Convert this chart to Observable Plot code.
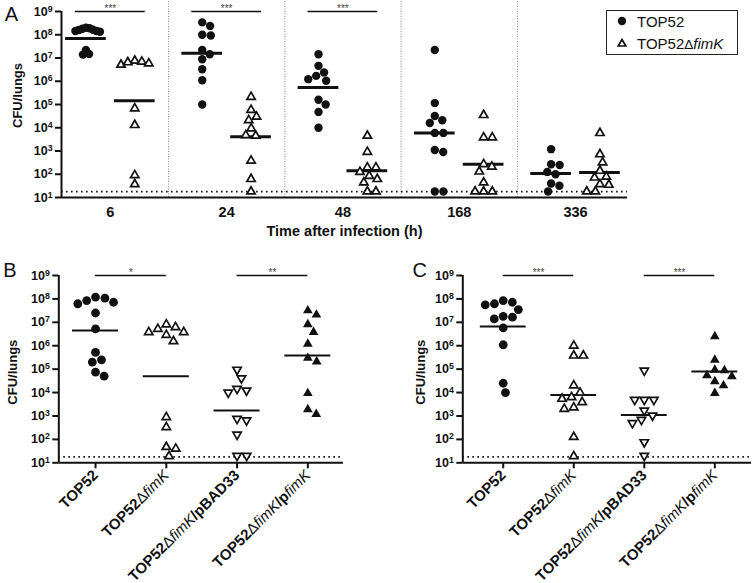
<!DOCTYPE html>
<html><head><meta charset="utf-8">
<script src="https://cdn.jsdelivr.net/npm/d3@7"></script>
<script src="https://cdn.jsdelivr.net/npm/@observablehq/plot@0.6"></script>
<style>
html,body{margin:0;padding:0;background:#fff;}
#wrap{position:relative;width:755px;height:583px;overflow:hidden;font-family:"Liberation Sans",Arial,sans-serif;}
.legend{position:absolute;left:606px;top:10px;width:132px;height:45px;border:1.3px solid #222;box-sizing:border-box;font-size:15px;color:#111;background:#fff;}
.legend .row{position:absolute;left:0;height:20px;display:flex;align-items:center;white-space:nowrap;}
.legend svg{display:block;}
</style></head>
<body><div id="wrap">
<div class="legend">
  <div class="row" style="top:0px"><svg width="30" height="20"><circle cx="15" cy="10" r="4.2" fill="#111"/></svg><span>TOP52</span></div>
  <div class="row" style="top:22px"><svg width="30" height="20"><polygon points="15,6.5 18.8,13 11.2,13" fill="#fff" stroke="#111" stroke-width="1.7"/></svg><span>TOP52<span style="font-size:0.9em;font-weight:300">Δ</span><i>fimK</i></span></div>
</div>
</div>
<script>
// ---------------- DATA ----------------
const timesA = ["6", "24", "48", "168", "336"];
// Panel A, CFU/lungs per mouse, one array per time point
const aTop52 = [
  [2.0e8, 1.8e8, 1.6e8, 1.45e8, 1.35e8, 1.45e8, 1.65e8, 1.9e8, 2.2e7, 1.4e7, 1.5e7],
  [3.4e8, 2.4e8, 1.0e8, 9.3e7, 2.2e7, 1.45e7, 8.9e6, 3.3e6, 1.1e6, 1.0e5],
  [1.45e7, 4.6e6, 2.4e6, 1.7e6, 1.23e6, 1.05e6, 1.6e5, 1.0e5, 4.8e4, 1.0e4],
  [2.2e7, 1.15e5, 3.2e4, 2.1e4, 1.6e4, 6.0e3, 6.0e3, 1.1e3, 9.1e2, 18, 18],
  [1.2e3, 2.5e2, 2.7e2, 1.26e2, 1.0e2, 40, 32, 18]
];
const aFimK = [
  [7.6e6, 6.9e6, 5.8e6, 5.1e6, 6.5e6, 6.8e4, 1.3e4, 91, 37],
  [2.1e5, 5.8e4, 3.0e4, 2.1e4, 9.3e3, 4.8e3, 4.5e3, 3.8e2, 62, 18],
  [4.5e3, 9.1e2, 1.95e2, 1.95e2, 1.26e2, 85, 62, 44, 18, 18],
  [3.5e4, 3.8e3, 3.8e3, 2.7e2, 2.1e2, 1.3e2, 44, 18, 18, 18],
  [5.9e3, 7.2e2, 3.2e2, 1.4e2, 79, 72, 37, 35, 18, 18]
];
const aTop52Mid = [6.9e7, 1.6e7, 5.4e5, 6.0e3, 1.07e2];
const aFimKMid = [1.45e5, 4.1e3, 1.4e2, 2.7e2, 1.2e2];
const aSigGroups = [0, 1, 2];
const aSigLabels = ["***", "***", "***"];

const strainsBC = ["TOP52", "TOP52ΔfimK", "TOP52ΔfimK/pBAD33", "TOP52ΔfimK/pfimK"];
const bValues = [
  [1.2e8, 6.2e7, 8.5e7, 7.2e7, 1.07e8, 2.5e7, 5.2e6, 5.2e5, 2.5e5, 2.0e5, 7.4e4, 5.0e4],
  [3.8e6, 6.2e6, 5.2e6, 2.9e6, 8.1e6, 3.8e6, 1.55e6, 8.9e2, 3.3e2, 47, 40, 19],
  [9.5e4, 4.1e4, 1.23e4, 1.0e4, 1.45e4, 6.5e2, 7.6e2, 1.6e2, 20, 20],
  [3.2e7, 2.1e7, 8.1e6, 3.8e6, 1.2e6, 2.1e5, 3.0e5, 9.3e3, 1.2e3, 1.9e3]
];
const bMid = [4.5e6, 5.0e4, 1.7e3, 3.8e5];
const bSigPairs = [[0, 1], [2, 3]];
const bSigLabels = ["*", "**"];

const cValues = [
  [7.2e7, 5.6e7, 3.5e7, 6.2e7, 8.5e7, 1.66e7, 1.8e7, 1.4e7, 5.8e6, 1.1e6, 2.5e4, 1.0e4],
  [1.0e6, 3.8e5, 3.8e5, 2.0e4, 9.8e3, 6.3e3, 3.9e3, 5.4e3, 2.0e3, 2.3e3, 1.26e2, 19],
  [8.7e4, 4.9e3, 4.9e3, 4.9e3, 1.7e3, 1.05e3, 5.0e2, 6.9e2, 76, 20],
  [2.5e6, 2.5e5, 8.9e4, 9.3e4, 3.0e4, 4.9e4, 5.4e4, 2.0e4, 9.5e3]
];
const cMid = [6.6e6, 7.9e3, 1.1e3, 7.9e4];
const cSigPairs = [[0, 1], [2, 3]];
const cSigLabels = ["***", "***"];

const decades = [1e1, 1e2, 1e3, 1e4, 1e5, 1e6, 1e7, 1e8, 1e9];
const detectionLimit = 18;

// ---------------- HELPERS ----------------
const FONT = "'Liberation Sans', Arial, sans-serif";
const NS = "http://www.w3.org/2000/svg";
const pow10 = d => "10^" + Math.round(Math.log10(d));

// simple beeswarm: horizontal pixel offsets so that points do not overlap
function dodge(vals, yScale, diam, cap) {
  const ys = vals.map(v => yScale(v));
  const order = d3.range(vals.length).sort((a, b) => ys[a] - ys[b]);
  const placed = [];
  const off = new Array(vals.length).fill(0);
  for (const i of order) {
    const y = ys[i];
    const cands = [0];
    for (const p of placed) {
      const dy = Math.abs(p.y - y);
      if (dy < diam) {
        const dx = Math.sqrt(diam * diam - dy * dy);
        cands.push(p.x + dx, p.x - dx);
      }
    }
    cands.sort((a, b) => Math.abs(a) - Math.abs(b) || b - a);
    let best = 0;
    for (const c of cands) {
      if (placed.every(p => (p.x - c) ** 2 + (p.y - y) ** 2 >= diam * diam - 0.01)) { best = c; break; }
    }
    off[i] = best;
    placed.push({x: best, y});
  }
  const m = d3.max(off, Math.abs);
  if (m > cap) off.forEach((o, k) => off[k] = o * cap / m);
  return off;
}

function styleText(svg) {
  svg.querySelectorAll("text").forEach(t => {
    if (t.querySelector("tspan")) return;
    const s = t.textContent;
    const m = s.match(/^10\^(\d+)$/);
    if (m) {
      t.textContent = "10";
      const ts = document.createElementNS(NS, "tspan");
      ts.setAttribute("dy", "-0.45em");
      ts.setAttribute("font-size", "0.7em");
      ts.textContent = m[1];
      t.appendChild(ts);
      return;
    }
    if (s.includes("Δ")) {
      t.textContent = "";
      s.split(/(Δ|fimK)/).filter(Boolean).forEach(part => {
        const ts = document.createElementNS(NS, "tspan");
        ts.textContent = part;
        if (part === "Δ") { ts.setAttribute("font-weight", "normal"); }
        else if (part === "fimK") { ts.setAttribute("font-weight", "normal"); ts.setAttribute("font-style", "italic"); }
        t.appendChild(ts);
      });
    }
  });
}

const wrap = document.getElementById("wrap");

// ---------------- PANEL A ----------------
{
  const W = 755, H = 250, ML = 61, MR = 128, MT = 11, MB = 53;
  const XD = [-0.42, 4.447];
  const yS = d3.scaleLog().domain([10, 1e9]).range([H - MB, MT]);
  const u = (W - ML - MR) / (XD[1] - XD[0]);
  const OFF = 0.21;
  const pts = [];
  [aTop52, aFimK].forEach((ser, s) => ser.forEach((vals, i) => {
    const off = dodge(vals, yS, 8.6, 14);
    vals.forEach((v, k) => pts.push({s, x: i + (s ? OFF : -OFF) + off[k] / u, y: v}));
  }));
  const mid = [];
  [aTop52Mid, aFimKMid].forEach((ser, s) => ser.forEach((v, i) => mid.push({x: i + (s ? OFF : -OFF), y: v})));
  const sep = d3.range(timesA.length - 1).map(i => i + 0.5);
  const sig = aSigGroups.map((g, k) => ({x1: g - 0.3, x2: g + 0.3, x: g, label: aSigLabels[k]}));
  const yTop = yS.invert(0);

  const svg = Plot.plot({
    width: W, height: H, marginLeft: ML, marginRight: MR, marginTop: MT, marginBottom: MB,
    style: {position: "absolute", left: "0px", top: "0px", fontFamily: FONT, color: "#111", background: "transparent", overflow: "visible"},
    x: {domain: XD},
    y: {type: "log", domain: [10, 1e9]},
    marks: [
      Plot.ruleX(sep, {y1: 10, y2: yTop, stroke: "#888", strokeWidth: 1, strokeDasharray: "1,1.5"}),
      Plot.ruleY([detectionLimit], {stroke: "#111", strokeWidth: 1.8, strokeDasharray: "1.6,3.4"}),
      Plot.axisY({ticks: decades, tickFormat: pow10, tickSize: 6, tickPadding: 3, fontSize: 12.5, fontWeight: "bold", strokeWidth: 2, label: null}),
      Plot.axisX({ticks: d3.range(timesA.length), tickFormat: i => timesA[i], tickSize: 0, tickPadding: 9, fontSize: 14.5, fontWeight: "bold", label: null}),
      Plot.ruleX([XD[0]], {y1: 10, y2: 1e9, strokeWidth: 2}),
      Plot.ruleY([10], {strokeWidth: 2}),
      Plot.text(["Time after infection (h)"], {frameAnchor: "bottom", lineAnchor: "middle", dy: 34, fontSize: 14.5, fontWeight: "bold"}),
      Plot.text(["CFU/lungs"], {frameAnchor: "left", textAnchor: "middle", dx: -44, dy: -9, rotate: -90, fontSize: 13, fontWeight: "bold"}),
      Plot.text(["A"], {frameAnchor: "top-left", textAnchor: "middle", lineAnchor: "middle", dx: -50, dy: 3, fontSize: 20}),
      Plot.ruleY(sig, {y: 1e9, x1: "x1", x2: "x2", strokeWidth: 1.5}),
      Plot.text(sig, {x: "x", y: 1e9, text: "label", dy: -2.5, fontSize: 10, fill: "#444"}),
      Plot.ruleY(mid, {y: "y", x1: d => d.x - 0.175, x2: d => d.x + 0.175, strokeWidth: 3}),
      Plot.dot(pts.filter(d => d.s === 0), {x: "x", y: "y", r: 4.2, fill: "#111", symbol: "circle"}),
      Plot.dot(pts.filter(d => d.s === 1), {x: "x", y: "y", r: 3.1, fill: "white", stroke: "#111", strokeWidth: 1.7, symbol: "triangle"})
    ]
  });
  styleText(svg);
  wrap.appendChild(svg);
}

// ---------------- PANELS B, C ----------------
function panelBC(cfg) {
  const {left, top, W, H, ML, MR, MT, MB, XD, values, mids, sigPairs, sigLabels, letter, letterDx, yLabelDx} = cfg;
  const yS = d3.scaleLog().domain([10, 1e9]).range([H - MB, MT]);
  const u = (W - ML - MR) / (XD[1] - XD[0]);
  const pts = [];
  values.forEach((vals, i) => {
    const off = dodge(vals, yS, 9.6, 18);
    vals.forEach((v, k) => pts.push({g: i, x: i + off[k] / u, y: v}));
  });
  const mid = mids.map((v, i) => ({x: i, y: v}));
  const sig = sigPairs.map((p, k) => ({x1: p[0], x2: p[1], x: (p[0] + p[1]) / 2, label: sigLabels[k]}));
  const ofG = g => pts.filter(d => d.g === g);
  const svg = Plot.plot({
    width: W, height: H, marginLeft: ML, marginRight: MR, marginTop: MT, marginBottom: MB,
    style: {position: "absolute", left: left + "px", top: top + "px", fontFamily: FONT, color: "#111", background: "transparent", overflow: "visible"},
    x: {domain: XD},
    y: {type: "log", domain: [10, 1e9]},
    marks: [
      Plot.ruleY([detectionLimit], {stroke: "#111", strokeWidth: 1.8, strokeDasharray: "1.6,3.4"}),
      Plot.axisY({ticks: decades, tickFormat: pow10, tickSize: 6, tickPadding: 3, fontSize: 12.5, fontWeight: "bold", strokeWidth: 2, label: null}),
      Plot.axisX({ticks: d3.range(strainsBC.length), tickFormat: i => strainsBC[i], tickRotate: -45, tickSize: 6, tickPadding: 4, fontSize: 15, fontWeight: "bold", strokeWidth: 2, label: null}),
      Plot.ruleX([XD[0]], {y1: 10, y2: 1e9, strokeWidth: 2}),
      Plot.ruleY([10], {strokeWidth: 2}),
      Plot.text(["CFU/lungs"], {frameAnchor: "left", textAnchor: "middle", dx: yLabelDx, dy: 3, rotate: -90, fontSize: 13, fontWeight: "bold"}),
      Plot.text([letter], {frameAnchor: "top-left", textAnchor: "middle", lineAnchor: "middle", dx: letterDx, dy: -5, fontSize: 20}),
      Plot.ruleY(sig, {y: 1e9, x1: "x1", x2: "x2", strokeWidth: 1.5}),
      Plot.text(sig, {x: "x", y: 1e9, text: "label", dy: -2.5, fontSize: 10, fill: "#444"}),
      Plot.ruleY(mid, {y: "y", x1: d => d.x - 0.325, x2: d => d.x + 0.325, strokeWidth: 2}),
      Plot.dot(ofG(0), {x: "x", y: "y", r: 4.4, fill: "#111", symbol: "circle"}),
      Plot.dot(ofG(1), {x: "x", y: "y", r: 3.1, fill: "white", stroke: "#111", strokeWidth: 1.7, symbol: "triangle"}),
      Plot.dot(ofG(2), {x: "x", y: "y", r: 3.1, fill: "white", stroke: "#111", strokeWidth: 1.7, symbol: "triangle", rotate: 180}),
      Plot.dot(ofG(3), {x: "x", y: "y", r: 3.6, fill: "#111", symbol: "triangle"})
    ]
  });
  styleText(svg);
  wrap.appendChild(svg);
}

panelBC({left: 0, top: 250, W: 360, H: 333, ML: 58.3, MR: 17, MT: 25, MB: 120.7, XD: [-0.519, 3.504],
  values: bValues, mids: bMid, sigPairs: bSigPairs, sigLabels: bSigLabels, letter: "B", letterDx: -49, yLabelDx: -46});
panelBC({left: 375, top: 250, W: 380, H: 333, ML: 87.3, MR: 4, MT: 25, MB: 120.7, XD: [-0.573, 3.52],
  values: cValues, mids: cMid, sigPairs: cSigPairs, sigLabels: cSigLabels, letter: "C", letterDx: -43, yLabelDx: -42});
</script></body></html>
